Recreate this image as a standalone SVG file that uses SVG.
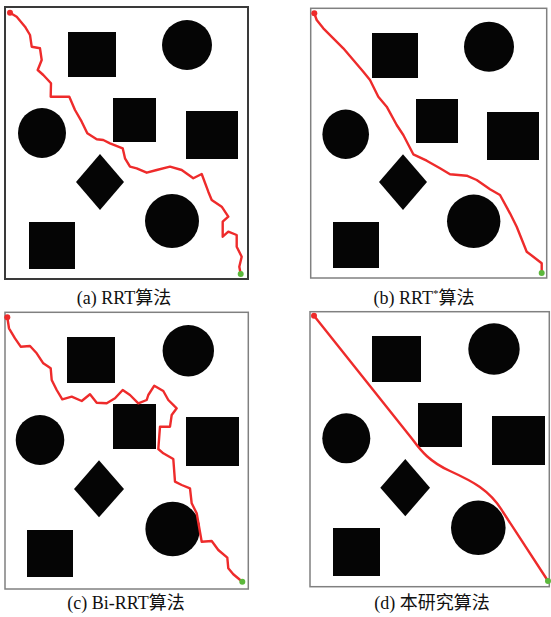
<svg xmlns="http://www.w3.org/2000/svg" width="551" height="617" viewBox="0 0 551 617">
<style>
.bg{fill:#ffffff}
.frame{fill:#ffffff;stroke:#808080;stroke-width:1.5}
.frameA{fill:#ffffff;stroke:#3a3a3a;stroke-width:2}
.ob{fill:#050505}
.path{fill:none;stroke:#ee2b2b;stroke-width:2.4;stroke-linejoin:round;stroke-linecap:round}
.start{fill:#ee2b2b}
.end{fill:#5cb83c}
.cap{font-family:"Liberation Serif","Noto Sans CJK SC",serif;font-size:18px;fill:#111;text-anchor:middle}
</style>
<rect class="bg" x="0" y="0" width="551" height="617"/>

<g id="panel-a">
  <rect class="frameA" x="5" y="7" width="243" height="272"/>
  <rect class="ob" x="68" y="32" width="48" height="45"/>
  <circle class="ob" cx="187" cy="45" r="25"/>
  <rect class="ob" x="113" y="98" width="43" height="44"/>
  <ellipse class="ob" cx="42" cy="133" rx="24" ry="25"/>
  <rect class="ob" x="186" y="111" width="52" height="48"/>
  <polygon class="ob" points="100,154 124,182 100,210 76,182"/>
  <circle class="ob" cx="172" cy="221" r="27"/>
  <rect class="ob" x="29" y="222" width="46" height="47"/>
  <polyline class="path" points="10,12.7 16.7,16.7 25,26.7 30,35 31.7,46.7 40,48.3 41.7,60 37.7,70 43.3,75 51,83.3 50.7,96.7 69.3,96.7 75,110 81.7,121.7 87.3,133.3 96.7,139.3 103.3,140 110,143.3 122.7,148.3 125,158.3 130,166.7 136.7,168.3 146.7,172.7 156.7,170 170,166.7 181.7,170 193.3,178.3 201.7,174 208.3,191.7 211.7,200 221.7,206.7 228.3,216.7 222.7,221.7 222.7,236.7 228.3,231.7 236.7,235 236.7,246.7 241.7,256.7 239.3,266.7 240.7,274"/>
  <circle class="start" cx="10" cy="12.7" r="3"/>
  <circle class="end" cx="240.7" cy="274" r="3"/>
  <text class="cap" x="124" y="304">(a) RRT算法</text>
</g>

<g id="panel-b">
  <rect class="frame" x="310.7" y="8.3" width="236" height="269.7"/>
  <rect class="ob" x="372" y="33" width="46" height="45"/>
  <circle class="ob" cx="489" cy="46.7" r="25"/>
  <rect class="ob" x="416" y="99" width="42" height="44"/>
  <ellipse class="ob" cx="345.7" cy="134.3" rx="23.3" ry="24.7"/>
  <rect class="ob" x="487" y="112" width="52" height="48"/>
  <polygon class="ob" points="403,154.3 427,182 403,210 379,182"/>
  <circle class="ob" cx="473.7" cy="221.3" r="26.7"/>
  <rect class="ob" x="333" y="222" width="46" height="46"/>
  <polyline class="path" points="314.3,13.3 316.7,20 323.3,28.3 333.3,38.3 343.3,48.3 353.3,60 363.3,71.7 370,80 378.3,96.7 386.7,106.7 396.7,125 403.3,135 413.3,154.3 426.7,160.7 440,168.3 450,174.3 466.7,175.7 476.7,180 490,189.3 500,195 510,213.3 516.7,226.7 526.7,251.7 533.3,256.7 541.7,263.3 541.7,272.7"/>
  <circle class="start" cx="314.3" cy="13.3" r="3"/>
  <circle class="end" cx="541.7" cy="273" r="3"/>
  <text class="cap" x="424" y="304">(b) RRT<tspan font-size="11" dy="-7">*</tspan><tspan dy="7">算法</tspan></text>
</g>

<g id="panel-c">
  <rect class="frame" x="5" y="312.3" width="243.3" height="276.7"/>
  <rect class="ob" x="67" y="337" width="48" height="46"/>
  <circle class="ob" cx="188.3" cy="350.7" r="25.7"/>
  <rect class="ob" x="113" y="404" width="43" height="45"/>
  <ellipse class="ob" cx="40" cy="440" rx="24.3" ry="25"/>
  <rect class="ob" x="186" y="417" width="53" height="49"/>
  <polygon class="ob" points="99,460.3 124,489 99,517.3 74,489"/>
  <circle class="ob" cx="172.7" cy="529" r="27.3"/>
  <rect class="ob" x="27" y="530" width="46" height="47"/>
  <polyline class="path" points="7.3,317.3 9,328.3 15,338.3 20.7,346.7 30,346 36.7,353.3 43.3,363.3 50.7,368.3 51.7,380 56.7,390 62.3,399.3 71.7,396.7 81.7,401 90,394.3 96.7,402.7 106.7,403.3 115,398.3 122.7,390 130,395 138.3,403.3 146.7,400 148.3,395 154.3,385.7 163.3,391 168.3,400 175,406.7 176.7,408.3 171.7,415 170,426.7 160,426.7 158.3,449 163.3,453.3 173.3,459 175,481.7 181.7,485 190,488.3 191.7,503.3 196.7,513.3 201.7,541.7 211.7,541 218.3,550 227.3,557.7 228.3,568.3 233.3,574.3 242.3,581.7"/>
  <circle class="start" cx="7.3" cy="317.3" r="3"/>
  <circle class="end" cx="242.3" cy="581.7" r="3"/>
  <text class="cap" x="126" y="609">(c) Bi-RRT算法</text>
</g>

<g id="panel-d">
  <rect class="frame" x="310" y="311.7" width="239.3" height="275"/>
  <rect class="ob" x="372" y="336" width="49" height="46"/>
  <circle class="ob" cx="494" cy="349" r="25.7"/>
  <rect class="ob" x="418" y="403" width="44" height="44"/>
  <ellipse class="ob" cx="346.3" cy="438.3" rx="24" ry="25"/>
  <rect class="ob" x="492" y="416" width="53" height="49"/>
  <polygon class="ob" points="405.3,459 430,487.7 405.3,516.3 380.3,487.7"/>
  <circle class="ob" cx="478.3" cy="527.7" r="27.3"/>
  <rect class="ob" x="333" y="528" width="47" height="48"/>
  <path class="path" d="M314,315.7 L413,440 C421,451 430,462 450,471 C472,481 490,490 503,512 L548,581"/>
  <circle class="start" cx="314" cy="315.7" r="3"/>
  <circle class="end" cx="548" cy="581" r="3"/>
  <text class="cap" x="432" y="609">(d) 本研究算法</text>
</g>
</svg>
